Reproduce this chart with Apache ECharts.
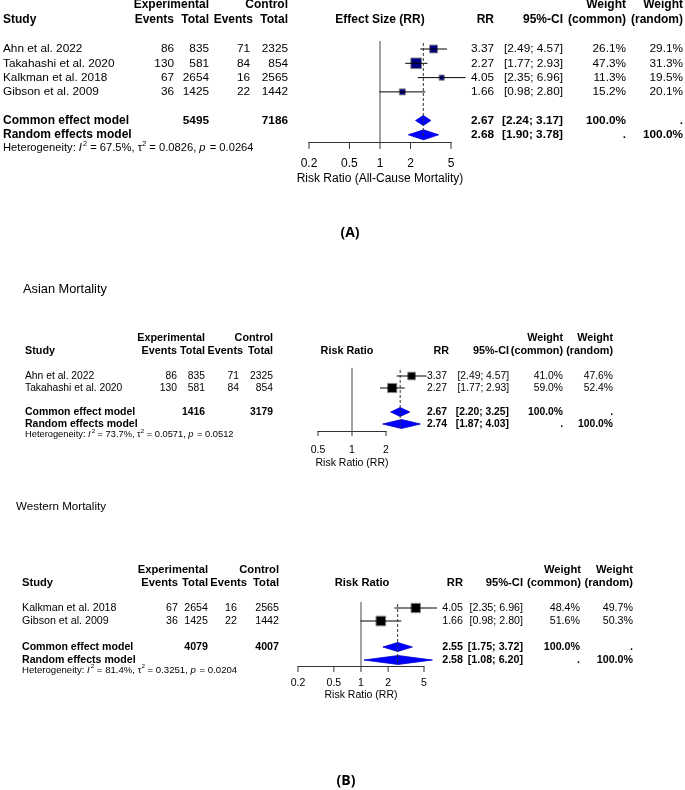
<!DOCTYPE html>
<html><head><meta charset="utf-8">
<script src="https://cdn.jsdelivr.net/npm/echarts@6/dist/echarts.min.js"></script>
<style>html,body{margin:0;padding:0;background:#fff}#c{width:685px;height:790px}</style>
</head><body><div id="c"></div>
<script>
const FONT = '"Liberation Sans", Arial, Helvetica, sans-serif';

// ---------- (A) All-cause mortality ----------
const studiesA = ['Ahn et al. 2022', 'Takahashi et al. 2020', 'Kalkman et al. 2018', 'Gibson et al. 2009'];
const expEventsA = [86, 130, 67, 36];
const expTotalA = [835, 581, 2654, 1425];
const ctrlEventsA = [71, 84, 16, 22];
const ctrlTotalA = [2325, 854, 2565, 1442];
const rrA = [3.37, 2.27, 4.05, 1.66];
const ciLowA = [2.49, 1.77, 2.35, 0.98];
const ciHighA = [4.57, 2.93, 6.96, 2.80];
const wCommonA = [26.1, 47.3, 11.3, 15.2];
const wRandomA = [29.1, 31.3, 19.5, 20.1];
const commonA = [2.67, 2.24, 3.17];
const randomA = [2.68, 1.90, 3.78];
const totalsA = [5495, 7186];
const hetA = ['67.5%', '0.0826', '0.0264'];
const ticksA = [0.2, 0.5, 1, 2, 5];

// ---------- (B) Asian mortality ----------
const studiesAsia = ['Ahn et al. 2022', 'Takahashi et al. 2020'];
const expEventsAsia = [86, 130];
const expTotalAsia = [835, 581];
const ctrlEventsAsia = [71, 84];
const ctrlTotalAsia = [2325, 854];
const rrAsia = [3.37, 2.27];
const ciLowAsia = [2.49, 1.77];
const ciHighAsia = [4.57, 2.93];
const wCommonAsia = [41.0, 59.0];
const wRandomAsia = [47.6, 52.4];
const commonAsia = [2.67, 2.20, 3.25];
const randomAsia = [2.74, 1.87, 4.03];
const totalsAsia = [1416, 3179];
const hetAsia = ['73.7%', '0.0571', '0.0512'];
const ticksAsia = [0.5, 1, 2];

// ---------- (B) Western mortality ----------
const studiesWest = ['Kalkman et al. 2018', 'Gibson et al. 2009'];
const expEventsWest = [67, 36];
const expTotalWest = [2654, 1425];
const ctrlEventsWest = [16, 22];
const ctrlTotalWest = [2565, 1442];
const rrWest = [4.05, 1.66];
const ciLowWest = [2.35, 0.98];
const ciHighWest = [6.96, 2.80];
const wCommonWest = [48.4, 51.6];
const wRandomWest = [49.7, 50.3];
const commonWest = [2.55, 1.75, 3.72];
const randomWest = [2.58, 1.08, 6.20];
const totalsWest = [4079, 4007];
const hetWest = ['81.4%', '0.3251', '0.0204'];
const ticksWest = [0.2, 0.5, 1, 2, 5];

const panelData = [
  {studies: studiesA, expEv: expEventsA, expTot: expTotalA, ctrlEv: ctrlEventsA, ctrlTot: ctrlTotalA,
   rr: rrA, lo: ciLowA, hi: ciHighA, wC: wCommonA, wR: wRandomA, common: commonA, random: randomA,
   totals: totalsA, het: hetA, ticks: ticksA},
  {studies: studiesAsia, expEv: expEventsAsia, expTot: expTotalAsia, ctrlEv: ctrlEventsAsia, ctrlTot: ctrlTotalAsia,
   rr: rrAsia, lo: ciLowAsia, hi: ciHighAsia, wC: wCommonAsia, wR: wRandomAsia, common: commonAsia, random: randomAsia,
   totals: totalsAsia, het: hetAsia, ticks: ticksAsia},
  {studies: studiesWest, expEv: expEventsWest, expTot: expTotalWest, ctrlEv: ctrlEventsWest, ctrlTot: ctrlTotalWest,
   rr: rrWest, lo: ciLowWest, hi: ciHighWest, wC: wCommonWest, wR: wRandomWest, common: commonWest, random: randomWest,
   totals: totalsWest, het: hetWest, ticks: ticksWest}
];

// ---------- layout (positions / styles) ----------
const layouts = [
  {left: 309, width: 142, row0: 49, rowH: 14.3, yMin: -0.56, yMax: 6.5, commonRow: 5, randomRow: 6,
   fs: 11.8, hfs: 12, mfs: 12, colV: [3, 174, 209, 250, 288, 494, 563, 626, 683], colH: [3, 174, 209, 253, 288, 494, 563, 626, 683],
   head1Y: 5, head2Y: 20, plotHeadX: 380, plotHead: 'Effect Size (RR)', title: null,
   sqK: 1.55, sqFill: '#000080', diaH: 10, hetDy: 13, hetFs: 11.2,
   tickLen: 7, tickLabDy: 22, tickFs: 12, nameDy: 37, nameFs: 12, axisName: 'Risk Ratio (All-Cause Mortality)', dashBot: 5},
  {left: 318, width: 68, row0: 376, rowH: 12, yMin: -0.67, yMax: 4.58, commonRow: 3, randomRow: 4,
   fs: 10.3, hfs: 10.8, mfs: 10.5, colV: [25, 177, 205, 239, 273, 447, 509, 563, 613], colH: [25, 177, 205, 243, 273, 449, 509, 563, 613],
   head1Y: 338, head2Y: 351, plotHeadX: 347, plotHead: 'Risk Ratio', title: 'Asian Mortality', titleX: 23, titleY: 289, titleFs: 12.8,
   sqK: 1.2, sqFill: '#000000', diaH: 9, hetDy: 10, hetFs: 9.3,
   tickLen: 5, tickLabDy: 19, tickFs: 10.5, nameDy: 32, nameFs: 10.5, axisName: 'Risk Ratio (RR)', dashBot: 1},
  {left: 298, width: 126, row0: 608, rowH: 13, yMin: -0.46, yMax: 4.46, commonRow: 3, randomRow: 4,
   fs: 10.7, hfs: 11.2, mfs: 10.6, colV: [22, 178, 208, 237, 279, 463, 523, 580, 633], colH: [22, 178, 208, 247, 279, 463, 523, 581, 633],
   head1Y: 570, head2Y: 583, plotHeadX: 362, plotHead: 'Risk Ratio', title: 'Western Mortality', titleX: 16, titleY: 507, titleFs: 11.6,
   sqK: 1.35, sqFill: '#000000', diaH: 9, hetDy: 10, hetFs: 9.6,
   tickLen: 6, tickLabDy: 17, tickFs: 10.5, nameDy: 29, nameFs: 10.5, axisName: 'Risk Ratio (RR)', dashBot: 3}
];

function T(text, x, y, size, bold, align, extra) {
  return Object.assign({type: 'text', x: x, y: y, silent: true,
    style: {text: text, fontSize: size, fontFamily: FONT, fontWeight: bold ? 'bold' : 'normal',
      fill: '#000', align: align || 'left', verticalAlign: 'middle'}}, extra || {});
}
function fmtCI(lo, hi) { return '[' + lo.toFixed(2) + '; ' + hi.toFixed(2) + ']'; }

const grids = [], xAxes = [], yAxes = [], series = [], graphics = [];

panelData.forEach(function (D, gi) {
  const L = layouts[gi];
  grids.push({left: L.left, width: L.width, top: L.row0 + L.yMin * L.rowH, height: (L.yMax - L.yMin) * L.rowH});
  xAxes.push({gridIndex: gi, type: 'log', logBase: 10, min: D.ticks[0], max: D.ticks[D.ticks.length - 1],
    axisLine: {show: true, onZero: false, lineStyle: {color: '#333', width: 1}}, axisTick: {show: false}, axisLabel: {show: false},
    splitLine: {show: false}});
  yAxes.push({gridIndex: gi, type: 'value', inverse: true, min: L.yMin, max: L.yMax, show: false});

  // headers
  const c = L.colH;
  graphics.push(T('Experimental', c[2], L.head1Y, L.hfs, true, 'right'));
  graphics.push(T('Control', c[4], L.head1Y, L.hfs, true, 'right'));
  graphics.push(T('Study', c[0], L.head2Y, L.hfs, true, 'left'));
  graphics.push(T('Events', c[1], L.head2Y, L.hfs, true, 'right'));
  graphics.push(T('Total', c[2], L.head2Y, L.hfs, true, 'right'));
  graphics.push(T('Events', c[3], L.head2Y, L.hfs, true, 'right'));
  graphics.push(T('Total', c[4], L.head2Y, L.hfs, true, 'right'));
  graphics.push(T(L.plotHead, L.plotHeadX, L.head2Y, L.hfs, true, 'center'));
  graphics.push(T('RR', c[5], L.head2Y, L.hfs, true, 'right'));
  graphics.push(T('95%-CI', c[6], L.head2Y, L.hfs, true, 'right'));
  graphics.push(T('Weight', c[7], L.head1Y, L.hfs, true, 'right'));
  graphics.push(T('(common)', c[7], L.head2Y, L.hfs, true, 'right'));
  graphics.push(T('Weight', c[8], L.head1Y, L.hfs, true, 'right'));
  graphics.push(T('(random)', c[8], L.head2Y, L.hfs, true, 'right'));
  if (L.title) graphics.push(T(L.title, L.titleX, L.titleY, L.titleFs, false, 'left'));

  // rows data: [est, lo, hi, row, weight, kind, index]
  const data = D.rr.map(function (v, i) { return [v, D.lo[i], D.hi[i], i, D.wC[i], 0, i]; });
  data.push([D.common[0], D.common[1], D.common[2], L.commonRow, 100, 1, 0]);
  data.push([D.random[0], D.random[1], D.random[2], L.randomRow, 100, 2, 0]);

  series.push({
    type: 'custom', xAxisIndex: gi, yAxisIndex: gi, clip: false, silent: true, animation: false,
    encode: {x: [0, 1, 2], y: 3}, data: data,
    renderItem: function (params, api) {
      const est = api.value(0), lo = api.value(1), hi = api.value(2), row = api.value(3);
      const kind = api.value(5), idx = api.value(6);
      const pE = api.coord([est, row]), pL = api.coord([lo, row]), pH = api.coord([hi, row]);
      const y = pE[1];
      const ch = [];
      const v = L.colV;
      if (kind === 0) {
        const s = L.sqK * Math.sqrt(api.value(4));
        ch.push({type: 'rect', shape: {x: pE[0] - s / 2, y: y - s / 2, width: s, height: s},
          style: {fill: L.sqFill, stroke: '#8a8a8a', lineWidth: 1}});
        ch.push({type: 'line', shape: {x1: pL[0], y1: y, x2: pH[0], y2: y}, style: {stroke: '#000', lineWidth: 1}});
        ch.push(T(D.studies[idx], v[0], y, L.fs, false, 'left'));
        ch.push(T(String(D.expEv[idx]), v[1], y, L.fs, false, 'right'));
        ch.push(T(String(D.expTot[idx]), v[2], y, L.fs, false, 'right'));
        ch.push(T(String(D.ctrlEv[idx]), v[3], y, L.fs, false, 'right'));
        ch.push(T(String(D.ctrlTot[idx]), v[4], y, L.fs, false, 'right'));
        ch.push(T(est.toFixed(2), v[5], y, L.fs, false, 'right'));
        ch.push(T(fmtCI(lo, hi), v[6], y, L.fs, false, 'right'));
        ch.push(T(D.wC[idx].toFixed(1) + '%', v[7], y, L.fs, false, 'right'));
        ch.push(T(D.wR[idx].toFixed(1) + '%', v[8], y, L.fs, false, 'right'));
      } else {
        const h = L.diaH / 2;
        ch.push({type: 'polygon', shape: {points: [[pL[0], y], [pE[0], y - h], [pH[0], y], [pE[0], y + h]]},
          style: {fill: '#0000ff', stroke: '#0000c8', lineWidth: 0.8}});
        ch.push(T(kind === 1 ? 'Common effect model' : 'Random effects model', v[0], y, L.mfs, true, 'left'));
        if (kind === 1) {
          ch.push(T(String(D.totals[0]), v[2], y, L.fs, true, 'right'));
          ch.push(T(String(D.totals[1]), v[4], y, L.fs, true, 'right'));
        }
        ch.push(T(est.toFixed(2), v[5], y, L.fs, true, 'right'));
        ch.push(T(fmtCI(lo, hi), v[6], y, L.fs, true, 'right'));
        ch.push(T(kind === 1 ? '100.0%' : '.', v[7], y, L.fs, true, 'right'));
        ch.push(T(kind === 1 ? '.' : '100.0%', v[8], y, L.fs, true, 'right'));
        if (kind === 2) {
          const f = L.hetFs;
          ch.push({type: 'text', x: v[0], y: y + L.hetDy, silent: true, style: {
            text: '{n|Heterogeneity: }{i|I}{s|2}{n| = ' + D.het[0] + ', τ}{s|2}{n| = ' + D.het[1] + ', }{i|p}{n| = ' + D.het[2] + '}',
            align: 'left', verticalAlign: 'middle',
            rich: {
              n: {fontSize: f, fontFamily: FONT, fill: '#000', lineHeight: f + 3},
              i: {fontSize: f, fontFamily: FONT, fontStyle: 'italic', fill: '#000', lineHeight: f + 3, padding: [0, 1, 0, 0]},
              s: {fontSize: f * 0.65, fontFamily: FONT, fill: '#000', verticalAlign: 'top', lineHeight: f * 0.65}
            }}});
        }
      }
      return {type: 'group', children: ch};
    }
  });

  // frame: reference line, pooled dashed line, ticks, tick labels, axis title
  series.push({
    type: 'custom', xAxisIndex: gi, yAxisIndex: gi, clip: false, silent: true, animation: false,
    encode: {x: 0, y: 1}, data: [[D.common[0], L.yMax]],
    renderItem: function (params, api) {
      const ch = [];
      const top1 = api.coord([1, L.yMin]), bot1 = api.coord([1, L.yMax]);
      ch.push({type: 'line', shape: {x1: top1[0], y1: top1[1], x2: bot1[0], y2: bot1[1]}, style: {stroke: '#444', lineWidth: 1}});
      const dT = api.coord([api.value(0), L.yMin]), dB = api.coord([api.value(0), L.yMax]);
      ch.push({type: 'line', shape: {x1: dT[0], y1: dT[1] + 2, x2: dB[0], y2: dB[1] - L.dashBot},
        style: {stroke: '#333', lineWidth: 1, lineDash: [3, 2]}});
      D.ticks.forEach(function (t) {
        const p = api.coord([t, L.yMax]);
        ch.push({type: 'line', shape: {x1: p[0], y1: p[1], x2: p[0], y2: p[1] + L.tickLen}, style: {stroke: '#333', lineWidth: 1}});
        ch.push(T(String(t), p[0], p[1] + L.tickLabDy, L.tickFs, false, 'center'));
      });
      const pc = api.coord([1, L.yMax]);
      const g0 = api.coord([D.ticks[0], L.yMax]), g1 = api.coord([D.ticks[D.ticks.length - 1], L.yMax]);
      ch.push(T(L.axisName, (g0[0] + g1[0]) / 2, pc[1] + L.nameDy, L.nameFs, false, 'center'));
      return {type: 'group', children: ch};
    }
  });
});

graphics.push({type: 'text', x: 350, y: 233, silent: true, style: {text: '(A)', fontSize: 14, fontWeight: 'bold',
  fontFamily: '"Open Sans", "Liberation Sans", sans-serif', fill: '#000', align: 'center', verticalAlign: 'middle'}});
graphics.push({type: 'text', x: 346, y: 781, silent: true, style: {text: '(B)', fontSize: 14, fontWeight: 'bold',
  fontFamily: '"Open Sans", "Liberation Sans", sans-serif', fill: '#000', align: 'center', verticalAlign: 'middle'}});

const chart = echarts.init(document.getElementById('c'), null, {renderer: 'canvas'});
chart.setOption({
  animation: false,
  backgroundColor: '#fff',
  grid: grids, xAxis: xAxes, yAxis: yAxes, series: series,
  graphic: {elements: graphics}
});
</script></body></html>
